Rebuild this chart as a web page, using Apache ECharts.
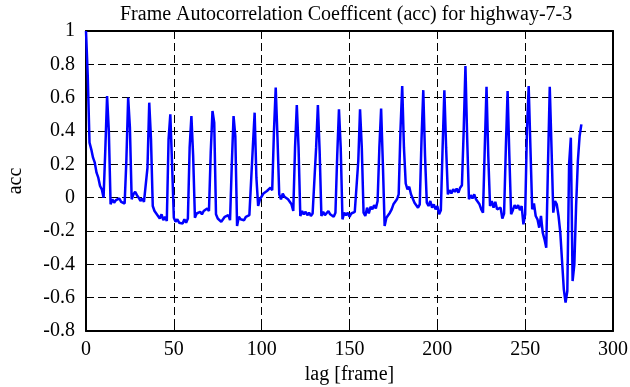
<!DOCTYPE html>
<html>
<head>
<meta charset="utf-8">
<script src="https://cdn.jsdelivr.net/npm/echarts@6/dist/echarts.min.js"></script>
<style>
  html, body { margin: 0; padding: 0; background: #fff; }
  #main { width: 630px; height: 387px; }
</style>
</head>
<body>
<div id="main"></div>
<script>
// autocorrelation per lag (lag 0 .. 282)
var acc = [
    1.0, 0.73, 0.33, 0.29, 0.24, 0.21, 0.15, 0.12, 0.07, 0.05, 0.0,
    0.29, 0.61, 0.40,
    -0.04, -0.01, -0.03, -0.015, -0.02, -0.005, -0.025, -0.02, -0.035, 0.23, 0.60, 0.42,
    -0.01, 0.02, 0.035, 0.015, 0.0, -0.02, -0.005, -0.025, -0.03, 0.18, 0.57, 0.35,
    -0.05, -0.08, -0.085, -0.11, -0.125, -0.10, -0.135, -0.115, -0.14, 0.35, 0.50, 0.20,
    -0.12, -0.145, -0.13, -0.15, -0.14, -0.155, -0.13, -0.15, -0.125, 0.30, 0.49, 0.25,
    -0.12, -0.095, -0.105, -0.085, -0.10, -0.08, -0.09, -0.065, -0.08, 0.27, 0.52, 0.45,
    -0.10, -0.125, -0.115, -0.145, -0.13, -0.115, -0.125, -0.105, -0.135, 0.20, 0.49, 0.37,
    -0.17, -0.115, -0.13, -0.12, -0.135, -0.115, -0.125, -0.105, -0.11, 0.31, 0.51, 0.12,
    -0.05, -0.01, -0.02, 0.025, 0.015, 0.04, 0.035, 0.06, 0.045, 0.40, 0.66, 0.36,
    0.02, -0.01, 0.025, 0.005, 0.01, -0.01, 0.0, -0.04, -0.08, 0.30, 0.555, 0.30,
    -0.11, -0.08, -0.10, -0.085, -0.105, -0.09, -0.11, -0.095, -0.085, 0.30, 0.555, 0.28,
    -0.11, -0.085, -0.105, -0.095, -0.08, -0.10, -0.09, -0.115, -0.09, 0.25, 0.53, 0.30,
    -0.13, -0.09, -0.105, -0.09, -0.115, -0.095, -0.10, -0.085, -0.095, 0.22, 0.53, 0.30,
    -0.09, -0.11, -0.06, -0.095, -0.055, -0.07, -0.045, -0.065, -0.02, 0.30, 0.535, 0.20,
    -0.17, -0.12, -0.13, -0.09, -0.07, -0.04, -0.05, -0.01, 0.02, 0.40, 0.67, 0.30,
    0.085, 0.05, 0.065, 0.02, 0.01, -0.03, -0.02, -0.06, -0.04, 0.35, 0.645, 0.25,
    -0.03, -0.05, -0.02, -0.06, -0.04, -0.07, -0.05, -0.10, -0.075, 0.30, 0.645, 0.30,
    0.02, 0.045, 0.025, 0.05, 0.035, 0.055, 0.03, 0.06, 0.075, 0.40, 0.79, 0.35,
    -0.01, 0.015, -0.005, 0.02, -0.01, -0.025, -0.04, -0.07, -0.09, 0.30, 0.665, 0.25,
    -0.05, -0.02, -0.06, -0.025, -0.07, -0.08, -0.06, -0.125, -0.095, 0.30, 0.64, 0.25,
    -0.10, -0.075, -0.045, -0.065, -0.045, -0.075, -0.05, -0.16, -0.10, 0.40, 0.67, 0.30,
    -0.07, -0.035, -0.11, -0.13, -0.18, -0.11, -0.21, -0.25, -0.30, 0.20, 0.665, 0.30,
    -0.09, -0.02, -0.04, -0.11, -0.21, -0.38, -0.55, -0.63, -0.56, 0.20, 0.36, -0.50,
    -0.40, -0.05, 0.22, 0.37, 0.44
];
var lags = acc.map(function (v, i) { return i; });

var xTicks = [0, 50, 100, 150, 200, 250, 300];
var yTicks = [-0.8, -0.6, -0.4, -0.2, 0, 0.2, 0.4, 0.6, 0.8, 1];

var serif = "'Liberation Serif', 'DejaVu Serif', serif";

var myChart = echarts.init(document.getElementById('main'));

var gridLine = {show: true, lineStyle: {color: '#000', type: [8, 4], width: 1}};
var boxLine = {show: true, onZero: false, lineStyle: {color: '#000', width: 2}};
var inTick = {show: true, inside: true, length: 5, lineStyle: {color: '#000', width: 1}};

var option = {
    animation: false,
    backgroundColor: '#fff',
    title: {
        text: 'Frame Autocorrelation Coefficent (acc) for highway-7-3',
        left: 115,
        top: 0,
        textStyle: {fontFamily: serif, fontSize: 20, fontWeight: 'normal', color: '#000'}
    },
    grid: {left: 86, right: 17, top: 31, bottom: 56, containLabel: false, outerBoundsMode: 'none'},
    xAxis: [{
        type: 'value',
        min: xTicks[0],
        max: xTicks[xTicks.length - 1],
        interval: 50,
        name: 'lag [frame]',
        nameLocation: 'middle',
        nameGap: 32,
        nameTextStyle: {fontFamily: serif, fontSize: 20, color: '#000'},
        axisLine: boxLine,
        axisTick: inTick,
        axisLabel: {fontFamily: serif, fontSize: 20, color: '#000', margin: 9},
        splitLine: gridLine
    }, {
        type: 'value',
        position: 'top',
        min: xTicks[0],
        max: xTicks[xTicks.length - 1],
        interval: 50,
        axisLine: boxLine,
        axisTick: inTick,
        axisLabel: {show: false},
        splitLine: {show: false}
    }],
    yAxis: [{
        type: 'value',
        min: yTicks[0],
        max: yTicks[yTicks.length - 1],
        interval: 0.2,
        name: 'acc',
        nameLocation: 'middle',
        nameGap: 60,
        nameTextStyle: {fontFamily: serif, fontSize: 20, color: '#000'},
        axisLine: boxLine,
        axisTick: inTick,
        axisLabel: {fontFamily: serif, fontSize: 20, color: '#000', margin: 11},
        splitLine: gridLine
    }, {
        type: 'value',
        position: 'right',
        min: yTicks[0],
        max: yTicks[yTicks.length - 1],
        interval: 0.2,
        axisLine: boxLine,
        axisTick: inTick,
        axisLabel: {show: false},
        splitLine: {show: false}
    }],
    series: [{
        name: 'acc',
        type: 'line',
        showSymbol: false,
        data: lags.map(function (l, i) { return [l, acc[i]]; }),
        lineStyle: {color: '#0000ff', width: 2.5},
        itemStyle: {color: '#0000ff'}
    }]
};

myChart.setOption(option);
</script>
</body>
</html>
